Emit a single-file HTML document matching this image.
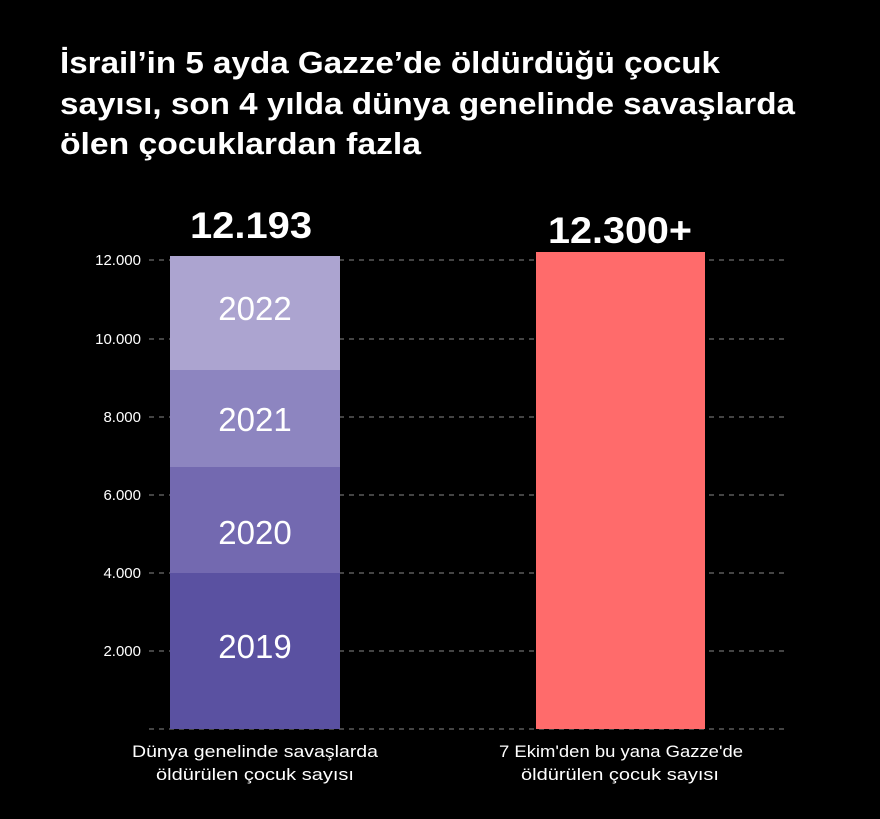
<!DOCTYPE html>
<html><head><meta charset="utf-8"><style>
body{margin:0;background:#000;width:880px;height:814px;overflow:hidden;font-family:"Liberation Sans",sans-serif;color:#fff}
</style></head><body>
<svg width="880" height="814" xmlns="http://www.w3.org/2000/svg" font-family="Liberation Sans, sans-serif">
<rect width="880" height="814" fill="#000"/>
<g font-size="31" font-weight="bold" fill="#fff">
<text x="60" y="73" textLength="660" lengthAdjust="spacingAndGlyphs">İsrail’in 5 ayda Gazze’de öldürdüğü çocuk</text>
<text x="60" y="114" textLength="735" lengthAdjust="spacingAndGlyphs">sayısı, son 4 yılda dünya genelinde savaşlarda</text>
<text x="60" y="154" textLength="361" lengthAdjust="spacingAndGlyphs">ölen çocuklardan fazla</text>
</g>
<g stroke="#888" stroke-dasharray="5,5" stroke-width="1">
<line x1="149" y1="260" x2="787" y2="260"/>
<line x1="149" y1="339" x2="787" y2="339"/>
<line x1="149" y1="417" x2="787" y2="417"/>
<line x1="149" y1="495" x2="787" y2="495"/>
<line x1="149" y1="573" x2="787" y2="573"/>
<line x1="149" y1="651" x2="787" y2="651"/>
<line x1="149" y1="729" x2="787" y2="729"/>
</g>
<g font-size="15" fill="#fff" text-anchor="end">
<text x="141" y="265">12.000</text>
<text x="141" y="344">10.000</text>
<text x="141" y="422">8.000</text>
<text x="141" y="500">6.000</text>
<text x="141" y="578">4.000</text>
<text x="141" y="656">2.000</text>
</g>
<rect x="170" y="256" width="170" height="114" fill="#aca4d0"/>
<rect x="170" y="370" width="170" height="97" fill="#8d85c0"/>
<rect x="170" y="467" width="170" height="106" fill="#7369b0"/>
<rect x="170" y="573" width="170" height="156" fill="#5a51a1"/>
<rect x="536" y="252" width="169" height="477" fill="#ff6b6b"/>
<g font-size="33" fill="#fff" text-anchor="middle">
<text x="255" y="320">2022</text>
<text x="255" y="431">2021</text>
<text x="255" y="544">2020</text>
<text x="255" y="658">2019</text>
</g>
<g font-size="37" font-weight="bold" fill="#fff">
<text x="190" y="238" textLength="122" lengthAdjust="spacingAndGlyphs">12.193</text>
<text x="548" y="243" textLength="144" lengthAdjust="spacingAndGlyphs">12.300+</text>
</g>
<g font-size="17" fill="#fff">
<text x="132" y="757" textLength="246" lengthAdjust="spacingAndGlyphs">Dünya genelinde savaşlarda</text>
<text x="156" y="780" textLength="198" lengthAdjust="spacingAndGlyphs">öldürülen çocuk sayısı</text>
<text x="499" y="757" textLength="244" lengthAdjust="spacingAndGlyphs">7 Ekim'den bu yana Gazze'de</text>
<text x="521" y="780" textLength="198" lengthAdjust="spacingAndGlyphs">öldürülen çocuk sayısı</text>
</g>
</svg>
</body></html>
